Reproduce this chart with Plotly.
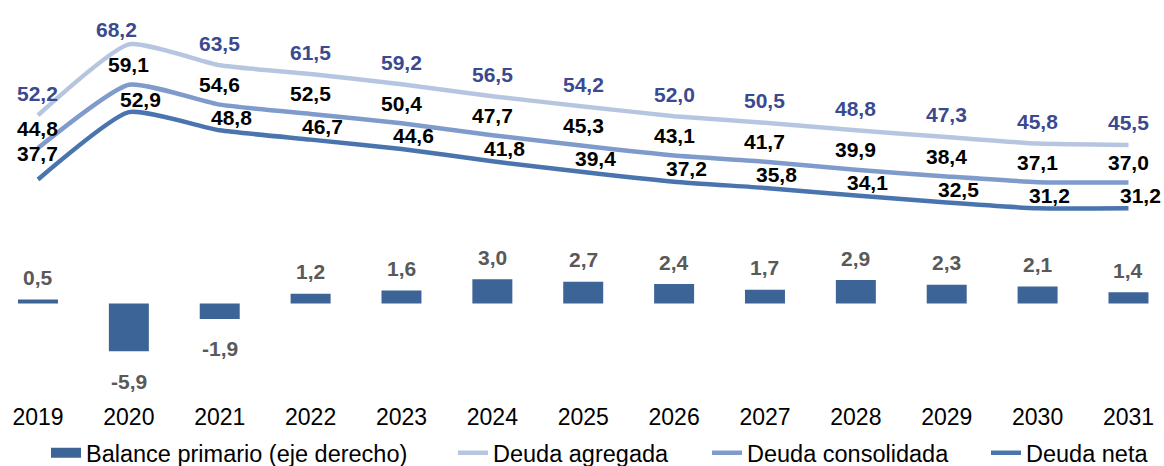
import plotly.graph_objects as go

years = [str(y) for y in range(2019, 2032)]
deuda_agregada = [52.2, 68.2, 63.5, 61.5, 59.2, 56.5, 54.2, 52.0, 50.5, 48.8, 47.3, 45.8, 45.5]
deuda_consolidada = [44.8, 59.1, 54.6, 52.5, 50.4, 47.7, 45.3, 43.1, 41.7, 39.9, 38.4, 37.1, 37.0]
deuda_neta = [37.7, 52.9, 48.8, 46.7, 44.6, 41.8, 39.4, 37.2, 35.8, 34.1, 32.5, 31.2, 31.2]
balance_primario = [0.5, -5.9, -1.9, 1.2, 1.6, 3.0, 2.7, 2.4, 1.7, 2.9, 2.3, 2.1, 1.4]

C_BAR = "#3D6496"
C_AGR = "#B7C6E0"
C_CON = "#7F9BCB"
C_NET = "#4A74AE"
C_AGR_LBL = "#3B4A8F"
FONT = "Arial, Liberation Sans, sans-serif"


def fmt(v):
    return f"{v:.1f}".replace(".", ",")


fig = go.Figure()

fig.add_trace(go.Bar(
    x=years, y=balance_primario, yaxis="y2", marker=dict(color=C_BAR, line=dict(width=0)),
    width=0.44, showlegend=False, name="Balance primario (eje derecho)",
))
# legend entry for the bar series (wide rectangle like the original)
fig.add_trace(go.Scatter(
    x=[None], y=[None], mode="lines", line=dict(color=C_BAR, width=12),
    name="Balance primario (eje derecho)", legend="legend",
))

series = [
    ("Deuda agregada", deuda_agregada, C_AGR, "legend2"),
    ("Deuda consolidada", deuda_consolidada, C_CON, "legend3"),
    ("Deuda neta", deuda_neta, C_NET, "legend4"),
]
for name, vals, col, lg in series:
    fig.add_trace(go.Scatter(
        x=years, y=vals, mode="lines", name=name, legend=lg,
        line=dict(color=col, width=4.5, shape="spline", smoothing=0.5),
    ))

annotations = []
label_specs = [
    ("agr", deuda_agregada, C_AGR_LBL, 0, 22),
    ("con", deuda_consolidada, "#000000", 0, 20),
    ("net", deuda_neta, "#000000", 12, 13),
]
for key, vals, col, xs, ys in label_specs:
    for i, v in enumerate(vals):
        dx, dy = xs, ys
        if key == "net" and i == 0:
            dx, dy = 0, 26
        if key == "agr" and i == 1:
            dx, dy = -12, 15
        annotations.append(dict(
            x=i, y=v, xref="x", yref="y", text="<b>" + fmt(v) + "</b>", showarrow=False,
            xshift=dx, yshift=dy, font=dict(family=FONT, size=21, color=col),
        ))
for i, v in enumerate(balance_primario):
    annotations.append(dict(
        x=i, y=v, xref="x", yref="y2", text="<b>" + fmt(v) + "</b>", showarrow=False,
        yshift=22 if v >= 0 else -30,
        font=dict(family=FONT, size=21, color="#595959"),
    ))

legend_common = dict(
    orientation="h", yanchor="middle", y=-0.1615, xanchor="left",
    font=dict(family=FONT, size=23.5, color="#000000"), bgcolor="rgba(0,0,0,0)",
)

fig.update_layout(
    width=1164, height=466,
    margin=dict(l=0, r=0, t=0, b=76, autoexpand=False),
    paper_bgcolor="white", plot_bgcolor="white",
    font=dict(family=FONT, color="#000000"),
    xaxis=dict(type="category", range=[-0.418, 12.391], showgrid=False, zeroline=False,
               showline=False, ticks="", ticklabelstandoff=11,
               tickfont=dict(family=FONT, size=23, color="#000000")),
    yaxis=dict(range=[-9.82, 78.22], visible=False, showgrid=False, zeroline=False),
    yaxis2=dict(range=[-10.68, 37.47], overlaying="y", side="right", visible=False,
                showgrid=False, zeroline=False),
    annotations=annotations,
    legend=dict(legend_common, x=(86 - 40) / 1164),
    legend2=dict(legend_common, x=(493 - 40) / 1164),
    legend3=dict(legend_common, x=(747 - 40) / 1164),
    legend4=dict(legend_common, x=(1026 - 40) / 1164),
    bargap=0.56,
)

fig.write_html("out.html", config={"displayModeBar": False},
               post_script="document.body.style.margin='0';")
